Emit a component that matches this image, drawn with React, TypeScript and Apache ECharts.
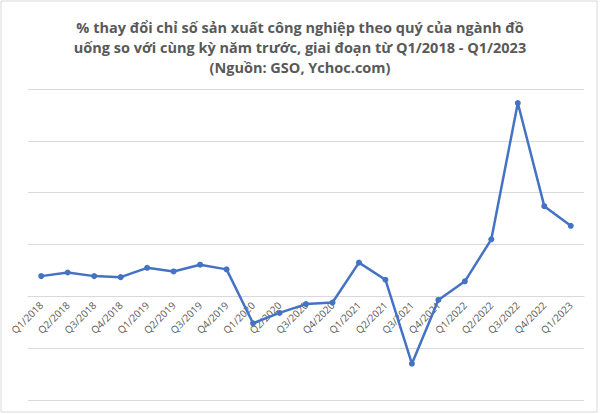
import React, { useEffect, useRef } from "react";
import * as echarts from "echarts";

const categories = [
  "Q1/2018", "Q2/2018", "Q3/2018", "Q4/2018",
  "Q1/2019", "Q2/2019", "Q3/2019", "Q4/2019",
  "Q1/2020", "Q2/2020", "Q3/2020", "Q4/2020",
  "Q1/2021", "Q2/2021", "Q3/2021", "Q4/2021",
  "Q1/2022", "Q2/2022", "Q3/2022", "Q4/2022",
  "Q1/2023",
];
const values = [
  3.9, 4.6, 3.9, 3.7,
  5.5, 4.8, 6.1, 5.2,
  -5.2, -3.2, -1.5, -1.2,
  6.5, 3.2, -13.0, -0.7,
  2.9, 11.0, 37.3, 17.4,
  13.6,
];
const titleLines = [
  "% thay đổi chỉ số sản xuất công nghiệp theo quý của ngành đồ",
  "uống so với cùng kỳ năm trước, giai đoạn từ Q1/2018 - Q1/2023",
  "(Nguồn: GSO, Ychoc.com)",
];
const yMin = -20;
const yMax = 40;

export default function App() {
  const ref = useRef<HTMLDivElement>(null);
  useEffect(() => {
    document.body.style.margin = "0";
    const chart = echarts.init(ref.current!, null, { renderer: "svg" });
    const gridTop = 89;
    const gridBottom = 14;
    const plotH = 414 - gridTop - gridBottom;
    const zeroOffset = -(plotH * (0 - yMin)) / (yMax - yMin);
    chart.setOption({
      animation: false,
      backgroundColor: "#ffffff",
      title: {
        text: titleLines.join("\n"),
        left: "center",
        top: 12,
        textStyle: {
          fontFamily: "Open Sans",
          fontWeight: "bold",
          fontSize: 14.5,
          lineHeight: 20,
          color: "#595959",
        },
      },
      graphic: [
        {
          type: "rect",
          shape: { x: 1, y: 1, width: 596, height: 411 },
          style: { fill: "none", stroke: "#d9d9d9", lineWidth: 1 },
          silent: true,
        },
      ],
      grid: {
        left: 28,
        right: 16,
        top: gridTop,
        bottom: gridBottom,
        containLabel: false,
        outerBoundsMode: "none",
      },
      xAxis: {
        type: "category",
        data: categories,
        boundaryGap: true,
        offset: zeroOffset,
        axisLine: {
          show: true,
          onZero: false,
          lineStyle: { color: "#d9d9d9", width: 1 },
        },
        axisTick: { show: false },
        axisLabel: {
          rotate: 45,
          interval: 0,
          margin: 7,
          fontFamily: "Open Sans",
          fontSize: 10,
          color: "#595959",
        },
      },
      yAxis: {
        type: "value",
        min: yMin,
        max: yMax,
        interval: 10,
        axisLabel: { show: false },
        axisLine: { show: false },
        axisTick: { show: false },
        splitLine: { show: true, lineStyle: { color: "#d9d9d9", width: 1 } },
      },
      series: [
        {
          type: "line",
          data: values,
          symbol: "circle",
          symbolSize: 6,
          lineStyle: { color: "#4472c4", width: 2.5 },
          itemStyle: { color: "#4472c4" },
        },
      ],
    });
    return () => chart.dispose();
  }, []);
  return <div ref={ref} style={{ width: 600, height: 414 }} />;
}
